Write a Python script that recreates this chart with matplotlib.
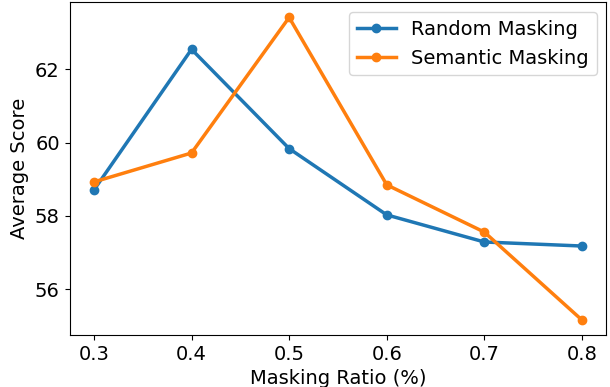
import matplotlib
matplotlib.use("Agg")
import matplotlib.pyplot as plt

ratios = [0.3, 0.4, 0.5, 0.6, 0.7, 0.8]
random_masking = [58.71, 62.55, 59.84, 58.03, 57.29, 57.18]
semantic_masking = [58.93, 59.72, 63.42, 58.85, 57.56, 55.16]

plt.rcParams['font.size'] = 14

fig, ax = plt.subplots(figsize=(6.1, 3.87), dpi=100)
ax.plot(ratios, random_masking, marker='o', linewidth=2.5, markersize=6, label='Random Masking')
ax.plot(ratios, semantic_masking, marker='o', linewidth=2.5, markersize=6, label='Semantic Masking')
ax.set_xlabel('Masking Ratio (%)')
ax.set_ylabel('Average Score')
ax.set_yticks([56, 58, 60, 62])
ax.legend(loc='upper right')
fig.subplots_adjust(left=0.114, right=0.994, top=0.994, bottom=0.134)
fig.savefig('out.png')
